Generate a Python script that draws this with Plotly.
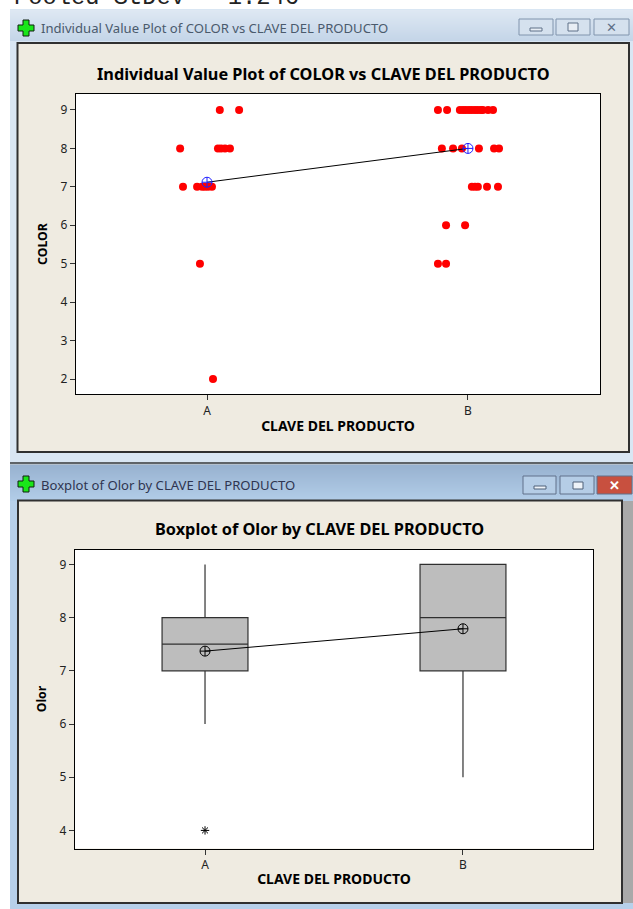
import plotly.graph_objects as go

W, H = 633, 909
CATS = ["A", "B"]
CAT_POS = [1, 2]

# Individual value plot: jittered category position and COLOR value
a_color_x = [1.049, 1.123, 0.897, 1.042, 1.054, 1.069, 1.088, 0.908, 0.962, 0.981, 0.992, 1.004, 1.019, 0.973, 1.023]
a_color_y = [9, 9, 8, 8, 8, 8, 8, 7, 7, 7, 7, 7, 7, 5, 2]
b_color_x = [1.885, 1.920, 1.969, 1.981, 1.992, 2.004, 2.015, 2.027, 2.038, 2.050, 2.057, 2.077, 2.096,
             1.900, 1.943, 1.977, 2.042, 2.100, 2.119,
             2.015, 2.027, 2.038, 2.073, 2.115,
             1.916, 1.989, 1.885, 1.916]
b_color_y = [9] * 13 + [8] * 6 + [7] * 5 + [6, 6, 5, 5]
color_means = [7.12, 8.0]

# Boxplot of Olor
olor_q1 = [7, 7]
olor_median = [7.5, 8]
olor_q3 = [8, 9]
olor_low = [6, 5]
olor_high = [9, 9]
olor_means = [7.37, 7.79]
olor_outlier_x = [1]
olor_outlier_y = [4]

FONT = "Noto Sans"
PANEL = "#efebe1"


def px(x):
    return x / W


def py(y):
    return 1 - y / H


def rect(x0, y0, x1, y1, fill, line=None, lw=1):
    return dict(type="rect", xref="paper", yref="paper", layer="below",
                x0=px(x0), x1=px(x1), y0=py(y0), y1=py(y1), fillcolor=fill,
                line=dict(color=line or fill, width=lw if line else 0))


def lerp(c0, c1, t):
    return "rgb(%d,%d,%d)" % tuple(round(a + (b - a) * t) for a, b in zip(c0, c1))


def plus(x, y, fill="#19e619"):
    s = 16
    a, b = 5, 11
    pts = [(a, 0), (b, 0), (b, a), (s, a), (s, b), (b, b), (b, s), (a, s), (a, b), (0, b), (0, a), (a, a)]
    d = "M" + "L".join(f"{px(x + p)},{py(y + q)}" for p, q in pts) + "Z"
    return dict(type="path", xref="paper", yref="paper", layer="below", path=d,
                fillcolor=fill, line=dict(color="#102010", width=1))


shapes = []
# first window
shapes.append(rect(10, 9, 633, 462, "#d9e6f3"))
for i in range(31):
    shapes.append(rect(10, 10 + i, 633, 11 + i, lerp((222, 232, 243), (196, 213, 232), i / 30)))
shapes.append(rect(17.5, 43, 629, 452, PANEL, "#303030", 2))
# second window
shapes.append(rect(10, 462, 633, 464.5, "#5f6468"))
shapes.append(rect(10, 464.5, 633, 909, "#b7d0ea"))
for i in range(36):
    shapes.append(rect(10, 465 + i, 633, 466 + i, lerp((152, 178, 208), (178, 205, 232), i / 35)))
shapes.append(rect(622, 501, 633, 903, "#a9a9a9"))
shapes.append(rect(18, 500.5, 622, 903, PANEL, "#303030", 2))
# white plot areas
shapes.append(rect(76, 94, 600, 394, "white"))
shapes.append(rect(75, 549.5, 593, 848.5, "white"))
# window buttons
for x0, x1 in [(519, 553), (556, 590), (594, 629)]:
    shapes.append(rect(x0, 19, x1, 35, "#d5e1ee", "#8094ad", 1))
shapes.append(rect(530, 28, 542, 31, "#e8eef5", "#5f7088", 1))
shapes.append(rect(568, 23, 578, 31, "#e8eef5", "#5f7088", 1))
for x0, x1, fill in [(523, 556, "#b5cde6"), (560, 594, "#b5cde6"), (597, 632, "#c8503f")]:
    shapes.append(rect(x0, 476, x1, 494, fill, "#60708a", 1))
shapes.append(rect(534, 486, 546, 489, "#eef3f8", "#4f6078", 1))
shapes.append(rect(573, 482, 583, 489, "#eef3f8", "#4f6078", 1))
shapes.append(plus(18, 20))
shapes.append(plus(18, 476))


def note(text, x, y, size, color="black", bold=False, family=FONT, xanchor="center", **kw):
    return dict(text=f"<b>{text}</b>" if bold else text, xref="paper", yref="paper",
                x=px(x), y=py(y), xanchor=xanchor, yanchor="middle", showarrow=False,
                font=dict(size=size, color=color, family=family), **kw)


annotations = [
    note("Pooled StDev = 1.246", 12, -3, 23.75, color="#222222", family="Liberation Mono", xanchor="left"),
    note("Individual Value Plot of COLOR vs CLAVE DEL PRODUCTO", 38.5, 28.5, 13.1, color="#4a5a6c", xanchor="left"),
    note("Boxplot of Olor by CLAVE DEL PRODUCTO", 39, 485, 13.1, color="#2f3550", xanchor="left"),
    note("Individual Value Plot of COLOR vs CLAVE DEL PRODUCTO", 323, 74, 16.3, bold=True),
    note("Boxplot of Olor by CLAVE DEL PRODUCTO", 319.5, 529, 16.3, bold=True),
    note("✕", 611, 27, 13, color="#5f7088"),
    note("✕", 614.5, 485, 13, color="white", bold=True),
]

fig = go.Figure()
# Individual value plot
fig.add_trace(go.Scatter(x=a_color_x, y=a_color_y, mode="markers", marker=dict(color="#ff0000", size=8), xaxis="x", yaxis="y"))
fig.add_trace(go.Scatter(x=b_color_x, y=b_color_y, mode="markers", marker=dict(color="#ff0000", size=8), xaxis="x", yaxis="y"))
fig.add_trace(go.Scatter(x=CAT_POS, y=color_means, mode="lines+markers",
                         line=dict(color="black", width=1),
                         marker=dict(symbol="circle-cross-open", size=10, color="#1f1fff", line=dict(color="#1f1fff", width=1)),
                         xaxis="x", yaxis="y"))
# Boxplot
fig.add_trace(go.Box(x=CAT_POS, q1=olor_q1, median=olor_median, q3=olor_q3,
                     lowerfence=olor_low, upperfence=olor_high, width=0.333,
                     whiskerwidth=0, boxpoints=False,
                     fillcolor="#bdbdbd", line=dict(color="#303030", width=1.2),
                     xaxis="x2", yaxis="y2"))
fig.add_trace(go.Scatter(x=CAT_POS, y=olor_means, mode="lines+markers",
                         line=dict(color="black", width=1),
                         marker=dict(symbol="circle-cross-open", size=10, color="black", line=dict(color="black", width=1)),
                         xaxis="x2", yaxis="y2"))
fig.add_trace(go.Scatter(x=olor_outlier_x, y=olor_outlier_y, mode="markers",
                         marker=dict(symbol="asterisk-open", size=7, color="black", line=dict(color="black", width=1)),
                         xaxis="x2", yaxis="y2"))

axis_common = dict(showgrid=False, zeroline=False, showline=True, linecolor="black", linewidth=1.3,
                   mirror=True, ticks="outside", ticklen=5, tickwidth=1, tickcolor="#333333",
                   tickfont=dict(size=12, family=FONT, color="#222222"))
title_font = dict(size=14, family=FONT, color="black")

fig.update_layout(
    width=W, height=H, autosize=False, showlegend=False, margin=dict(l=0, r=0, t=0, b=0),
    paper_bgcolor="white", plot_bgcolor="white", shapes=shapes, annotations=annotations,
    xaxis=dict(domain=[px(76), px(600)], range=[0.498, 2.506], anchor="y", tickmode="array",
               tickvals=CAT_POS, ticktext=CATS,
               title=dict(text="<b>CLAVE DEL PRODUCTO</b>", font=title_font, standoff=3), **axis_common),
    yaxis=dict(domain=[py(394), py(94)], range=[1.61, 9.416], anchor="x", tickmode="array",
               tickvals=list(range(2, 10)),
               title=dict(text="<b>COLOR</b>", font=dict(title_font, size=12.3), standoff=10), **axis_common),
    xaxis2=dict(domain=[px(75), px(593)], range=[0.496, 2.504], anchor="y2", tickmode="array",
                tickvals=CAT_POS, ticktext=CATS,
                title=dict(text="<b>CLAVE DEL PRODUCTO</b>", font=title_font, standoff=2), **axis_common),
    yaxis2=dict(domain=[py(848.5), py(549.5)], range=[3.66, 9.28], anchor="x2", tickmode="array",
                tickvals=list(range(4, 10)),
                title=dict(text="<b>Olor</b>", font=dict(title_font, size=12.3), standoff=10), **axis_common),
)

fig.write_html("out.html", config=dict(displayModeBar=False),
               post_script="document.body.style.margin='0';document.body.style.overflow='hidden';")
